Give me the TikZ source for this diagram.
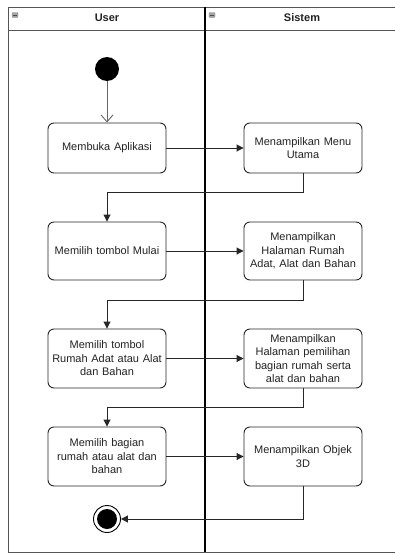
\documentclass[tikz,border=0pt]{standalone}
\usepackage{fontspec}
\setmainfont{Liberation Sans}
\usetikzlibrary{arrows.meta}
\definecolor{txt}{HTML}{222222}
\definecolor{frm}{HTML}{555555}
\begin{document}
\begin{tikzpicture}[x=1pt,y=1pt,
  act/.style={draw=black!85,line width=0.9pt,rounded corners=6pt,minimum width=118pt,
    text width=116pt,inner sep=1pt,align=center,text=txt,font=\fontsize{11}{13.5}\selectfont},
  flow/.style={draw=black!85,line width=0.9pt,-{Triangle[length=7pt,width=7pt]}},
  lanehd/.style={font=\bfseries\fontsize{11}{13}\selectfont,text=txt},
  mini/.style={fill=black!35,draw=black!50,line width=0.4pt,rounded corners=0.8pt,minimum width=6pt,minimum height=5pt,inner sep=0pt}
]
\useasboundingbox (0,0) rectangle (395,-554);
% frame
\draw[frm,line width=1pt] (8,-7) -- (396,-7);
\draw[frm,line width=1pt] (8,-30) -- (396,-30);
\draw[frm,line width=1pt] (8,-7) -- (8,-552) -- (396,-552);
\draw[black,line width=1.3pt] (205,-7) -- (205,-552);
% header icons
\node[mini] (i1) at (15,-15) {};
\draw[black!70,line width=0.8pt] ([xshift=-1.8pt]i1.center) -- ([xshift=1.8pt]i1.center);
\node[mini] (i2) at (212,-15) {};
\draw[black!70,line width=0.8pt] ([xshift=-1.8pt]i2.center) -- ([xshift=1.8pt]i2.center);
\node[lanehd] (hu) at (107,-18) {User};
\node[lanehd] (hs) at (302,-18) {Sistem};
% start
\node[circle,fill=black,minimum size=24pt,inner sep=0pt] (start) at (107,-69) {};
% activities
\node[act,minimum height=50pt] (u1) at (107,-148) {Membuka Aplikasi};
\node[act,minimum height=50pt] (s1) at (303,-148) {Menampilkan Menu\\Utama};
\node[act,minimum height=58pt] (u2) at (107,-251) {Memilih tombol Mulai};
\node[act,minimum height=58pt] (s2) at (303,-251) {Menampilkan\\Halaman Rumah\\Adat, Alat dan Bahan};
\node[act,minimum height=59pt] (u3) at (107,-358.5) {Memilih tombol\\Rumah Adat atau Alat\\dan Bahan};
\node[act,minimum height=59pt] (s3) at (303,-358.5) {Menampilkan\\Halaman pemilihan\\bagian rumah serta\\alat dan bahan};
\node[act,minimum height=59pt] (u4) at (107,-456.5) {Memilih bagian\\rumah atau alat dan\\bahan};
\node[act,minimum height=59pt] (s4) at (303,-456.5) {Menampilkan Objek\\3D};
% end
\node[circle,draw=black,line width=0.9pt,minimum size=27pt,inner sep=0pt] (end) at (107,-519) {};
\node[circle,fill=black,minimum size=20pt,inner sep=0pt] (endin) at (end.center) {};
% connectors
\draw[draw=black!60,line width=0.9pt,-{Straight Barb[length=7pt,width=12pt]}] (start) -- (u1);
\draw[flow] (u1) -- (s1);
\draw[flow] (s1.south) |- (107,-192) -- (u2.north);
\draw[flow] (u2) -- (s2);
\draw[flow] (s2.south) |- (107,-300) -- (u3.north);
\draw[flow] (u3.east) -- (s3.west |- u3.east);
\draw[flow] (s3.south) |- (107,-407) -- (u4.north);
\draw[flow] (u4) -- (s4);
\draw[flow] (s4.south) |- (end.east);
\end{tikzpicture}
\end{document}
